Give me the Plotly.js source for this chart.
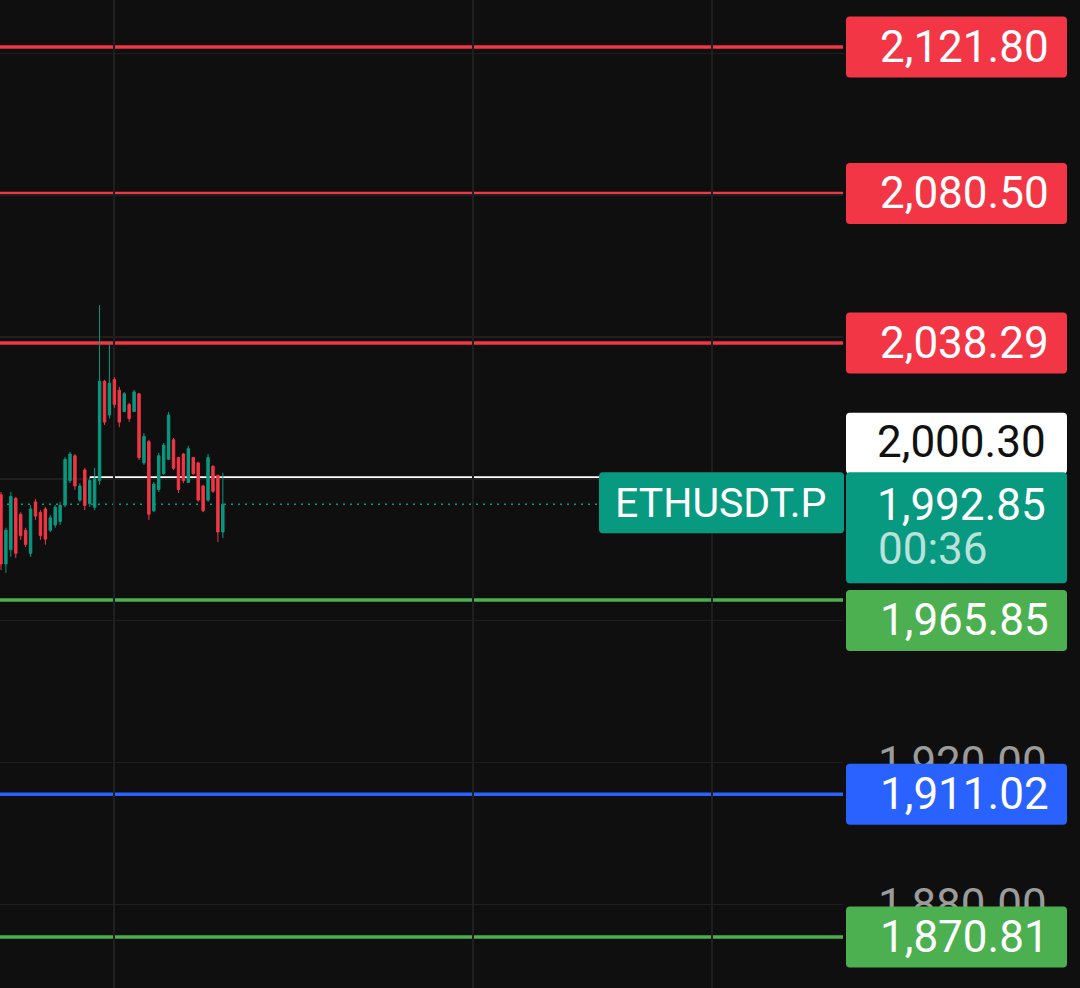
<!DOCTYPE html>
<html>
<head>
<meta charset="utf-8">
<script src="https://cdn.plot.ly/plotly-3.0.1.min.js"></script>
<style>
  html, body { margin: 0; padding: 0; background: #0f0f0f; }
  #chart { width: 1080px; height: 988px; }
</style>
</head>
<body>
<div id="chart"></div>
<script>
// ---- data ----
const openP  = [1995.5, 1976.0, 1980.0, 1994.5, 1990.0, 1985.5, 1979.0, 1993.5, 1990.5, 1991.5, 1985.5, 1987.0, 1988.0, 1992.6, 1999.5, 2006.5, 1994.0, 2002.5, 1993.0, 1992.0, 1999.5, 2027.5, 2018.0, 2028.0, 2025.0, 2019.0, 2021.0, 2019.0, 2024.0, 2004.5, 2010.5, 1991.0, 1997.0, 2001.5, 2005.5, 2011.0, 2006.0, 2007.0, 1999.0, 2006.0, 2004.5, 1998.0, 1994.0, 2003.5, 2001.0, 1985.0];
const highP  = [1996.3, 1986.2, 1996.3, 1994.9, 1990.6, 1986.2, 1992.6, 1994.3, 1991.2, 1992.1, 1989.8, 1992.6, 1993.5, 2006.2, 2007.6, 2007.0, 1998.8, 2003.1, 2000.3, 2003.1, 2049.0, 2027.9, 2038.3, 2028.7, 2025.9, 2024.5, 2021.4, 2025.1, 2024.2, 2012.9, 2011.0, 1999.1, 2007.3, 2010.1, 2018.9, 2011.5, 2006.2, 2007.3, 2009.3, 2006.2, 2004.8, 1998.3, 2007.0, 2003.9, 2001.1, 2001.7];
const lowP   = [1974.3, 1973.5, 1978.0, 1977.7, 1982.8, 1980.8, 1978.0, 1988.4, 1982.8, 1981.4, 1985.0, 1986.2, 1987.0, 1992.0, 1998.8, 1996.9, 1993.5, 1991.2, 1992.1, 1991.2, 1998.3, 2015.2, 2017.0, 2020.0, 2014.6, 2018.9, 2016.1, 2018.9, 2005.3, 2003.9, 1988.4, 1990.6, 1996.3, 2001.1, 2005.3, 2002.5, 1996.0, 1998.8, 1998.8, 2001.1, 1993.5, 1990.6, 1993.5, 1996.0, 1982.2, 1983.3];
const closeP = [1976.0, 1985.5, 1995.0, 1979.0, 1984.0, 1981.5, 1991.5, 1989.5, 1984.0, 1983.0, 1989.0, 1992.0, 1992.5, 2005.5, 2007.0, 1998.0, 1998.0, 1992.5, 1999.5, 2000.0, 2027.5, 2016.0, 2027.0, 2021.0, 2016.0, 2024.0, 2017.0, 2024.5, 2006.0, 2012.0, 1990.0, 1998.5, 2006.5, 2009.5, 2018.0, 2003.0, 1997.0, 1999.5, 2008.5, 2001.5, 1994.0, 1991.0, 2006.0, 1996.5, 1985.0, 1992.85];

const levelValues = [2121.80, 2080.50, 2038.29, 1965.85, 1911.02, 1870.81];
const levelKinds  = ['resistance', 'resistance', 'resistance', 'support', 'pivot', 'support'];

// price-scale ticks: only 1,920.00 and 1,880.00 peek out from behind the labels
const yTickVals = [1880, 1920, 1960, 2000, 2040, 2080, 2120];
const yTickText = ['1,880.00', '1,920.00', '', '', '', '', ''];

const alertValue = 2000.30;
const alertStartCandle = 18;
const lastPrice = 1992.85;
const symbol = 'ETHUSDT.P';
const countdown = '00:36';

// ---- styles ----
const BG = '#0f0f0f';
const UP = '#089981';
const DOWN = '#F23645';
const kindColor = { resistance: '#F23645', support: '#4CAF50', pivot: '#2962FF' };
const FONT = 'Roboto, "Open Sans", sans-serif';
const FS = 44;
const fmt = v => v.toLocaleString('en-US', { minimumFractionDigits: 2, maximumFractionDigits: 2 });

const xIdx = openP.map((_, i) => i);
const xRange = [-0.2, 170.8];

// rounded rectangle path in pixel offsets (y positive up)
function rr(x0, x1, y0, y1, r) {
  return `M${x0 + r},${y0} L${x1 - r},${y0} Q${x1},${y0} ${x1},${y0 + r} L${x1},${y1 - r} Q${x1},${y1} ${x1 - r},${y1} ` +
         `L${x0 + r},${y1} Q${x0},${y1} ${x0},${y1 - r} L${x0},${y0 + r} Q${x0},${y0} ${x0 + r},${y0} Z`;
}
function box(yVal, x0, x1, y0, y1, color) {
  return {
    type: 'path', layer: 'above', xref: 'paper', yref: 'y',
    xsizemode: 'pixel', ysizemode: 'pixel', xanchor: 1, yanchor: yVal,
    path: rr(x0, x1, y0, y1, 4), fillcolor: color, line: { width: 0 }
  };
}
function label(yVal, text, color, opts) {
  return Object.assign({
    xref: 'paper', yref: 'y', x: 1, y: yVal, xanchor: 'right', yanchor: 'middle',
    xshift: 208, yshift: 0, showarrow: false, text: text,
    font: { family: FONT, size: FS, color: color }
  }, opts || {});
}

const shapes = [];
const annotations = [];

// level lines + their price labels
levelValues.forEach((v, i) => {
  const c = kindColor[levelKinds[i]];
  shapes.push({ type: 'line', layer: 'below', xref: 'paper', yref: 'y', x0: 0, x1: 1, y0: v, y1: v,
                line: { color: c, width: 3.5 } });
  const shift = (v === 1965.85) ? -20.5 : 0;
  shapes.push(box(v, 3, 224, -30.5 + shift, 30.5 + shift, c));
  annotations.push(label(v, fmt(v), '#ffffff', { yshift: shift }));
});

// alert line (white) from a candle to the right edge
shapes.push({ type: 'line', layer: 'below', xref: 'x', yref: 'y', x0: alertStartCandle, x1: xRange[1], y0: alertValue, y1: alertValue,
              line: { color: '#ffffff', width: 3 } });
// last price dotted line
shapes.push({ type: 'line', layer: 'below', xref: 'paper', yref: 'y', x0: 0, x1: 1, y0: lastPrice, y1: lastPrice,
              line: { color: UP, width: 1.5, dash: '2px,5px' } });

// alert label (white box, pushed up)
shapes.push(box(alertValue, 3, 224, 4, 65, '#ffffff'));
annotations.push(label(alertValue, fmt(alertValue), '#111111', { yshift: 36, xshift: 205 }));

// symbol label + last price label with countdown
shapes.push(box(lastPrice, -244, 1, -29, 32, UP));
shapes.push(box(lastPrice, 3, 224, -79, 32, UP));
annotations.push({
  xref: 'paper', yref: 'y', x: 1, y: lastPrice, xanchor: 'center', yanchor: 'middle',
  xshift: -122, yshift: 1, showarrow: false, text: symbol,
  font: { family: FONT, size: 41, color: '#ffffff' }
});
annotations.push(label(lastPrice, fmt(lastPrice), '#ffffff', { xshift: 205, yshift: -1 }));
annotations.push({
  xref: 'paper', yref: 'y', x: 1, y: lastPrice, xanchor: 'left', yanchor: 'middle',
  xshift: 33, yshift: -45, showarrow: false, text: countdown,
  font: { family: FONT, size: FS, color: 'rgba(255,255,255,0.72)' }
});

const trace = {
  type: 'candlestick', x: xIdx, open: openP, high: highP, low: lowP, close: closeP,
  increasing: { line: { color: UP, width: 1 }, fillcolor: UP },
  decreasing: { line: { color: DOWN, width: 1 }, fillcolor: DOWN },
  whiskerwidth: 0, hoverinfo: 'skip'
};

const layout = {
  width: 1080, height: 988,
  margin: { l: 0, r: 237, t: 0, b: 0, pad: 0 },
  paper_bgcolor: BG, plot_bgcolor: BG,
  showlegend: false,
  xaxis: {
    range: xRange, rangeslider: { visible: false },
    tickmode: 'array', tickvals: [22.9, 95.7, 144.2], showticklabels: false, ticks: '',
    showgrid: true, gridcolor: '#1f1f1f', gridwidth: 1.5, zeroline: false, showline: false
  },
  yaxis: {
    side: 'right', range: [1856.4, 2135.05],
    tickmode: 'array', tickvals: yTickVals, ticktext: yTickText,
    ticks: '', ticklabelstandoff: 34,
    tickfont: { family: FONT, size: FS, color: '#9b9b9b' },
    showgrid: true, gridcolor: '#1f1f1f', gridwidth: 1.5, zeroline: false, showline: false
  },
  shapes: shapes,
  annotations: annotations
};

Plotly.newPlot('chart', [trace], layout, { displayModeBar: false, staticPlot: true });
</script>
</body>
</html>
